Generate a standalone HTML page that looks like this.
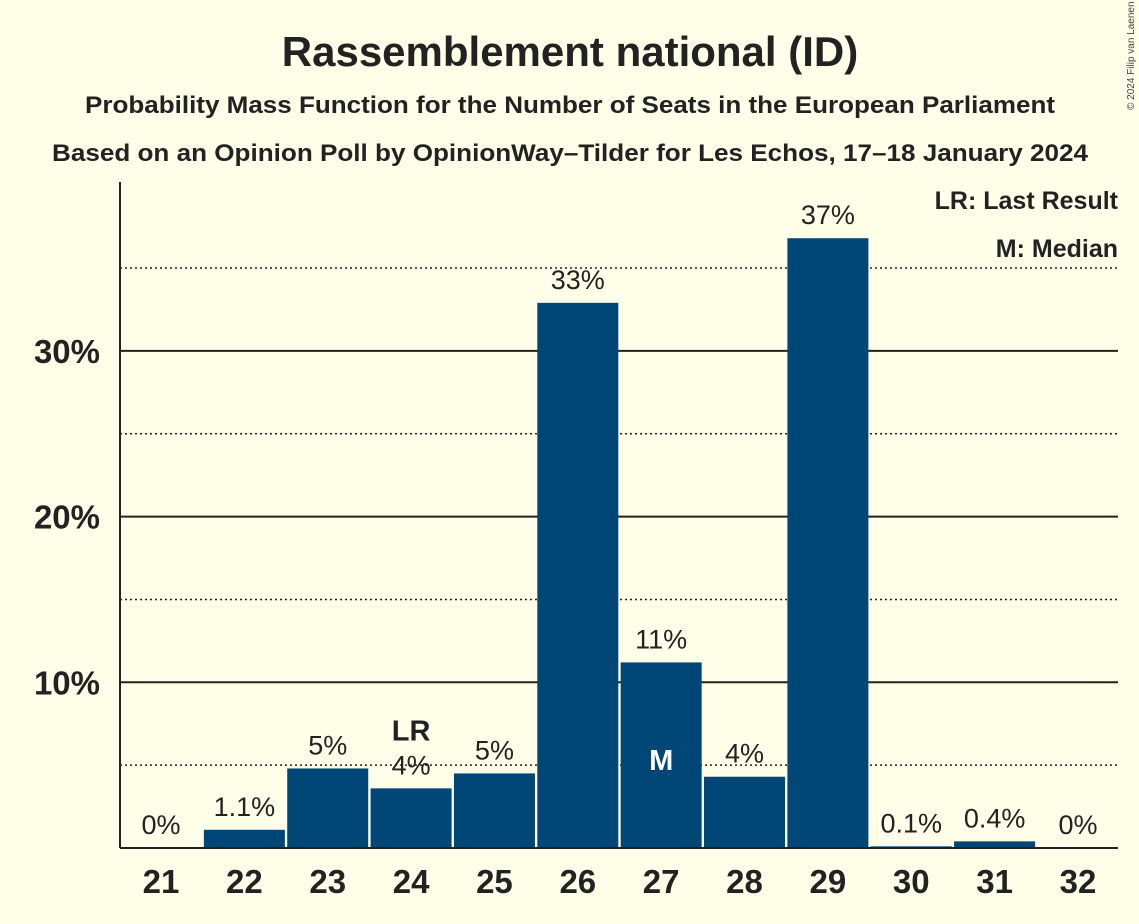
<!DOCTYPE html>
<html><head><meta charset="utf-8"><style>
html,body{margin:0;padding:0;background:#FFFEE8;}
svg{display:block;font-family:"Liberation Sans",sans-serif;}
</style></head><body>
<svg id="chart" width="1139" height="924" viewBox="0 0 1139 924">
<rect width="1139" height="924" fill="#FFFEE8"/>
<text x="570" y="66" text-anchor="middle" font-size="42" font-weight="bold" fill="#222">Rassemblement national (ID)</text>
<text x="85" y="113" font-size="24" font-weight="bold" fill="#222" textLength="970" lengthAdjust="spacingAndGlyphs">Probability Mass Function for the Number of Seats in the European Parliament</text>
<text x="52" y="161" font-size="24" font-weight="bold" fill="#222" textLength="1036" lengthAdjust="spacingAndGlyphs">Based on an Opinion Poll by OpinionWay–Tilder for Les Echos, 17–18 January 2024</text>
<text x="1134" y="110" font-size="10" fill="#444" transform="rotate(-90 1134 110)">© 2024 Filip van Laenen</text>
<g id="grid"></g>
<g id="bars"></g>
<g id="labels"></g>
<g id="axes"></g>
<text x="1118" y="209" text-anchor="end" font-size="25" font-weight="bold" fill="#222">LR: Last Result</text>
<text x="1118" y="257" text-anchor="end" font-size="25" font-weight="bold" fill="#222">M: Median</text>
</svg>
<script>
const categories=[21,22,23,24,25,26,27,28,29,30,31,32];
const values=[0,1.1,4.8,3.6,4.5,32.9,11.2,4.3,36.8,0.1,0.4,0];
const labels=["0%","1.1%","5%","4%","5%","33%","11%","4%","37%","0.1%","0.4%","0%"];
const yTicks=[10,20,30];
const yTickLabels=["10%","20%","30%"];
const yMinor=[5,15,25,35];
const lastResult=24, median=27;
const NS="http://www.w3.org/2000/svg";
const x0=120,x1=1118,y0=848,pxPer=16.57,step=83.36,first=161;
const xC=i=>first+i*step;
const yS=v=>y0-v*pxPer;
function mk(t,a,p){const e=document.createElementNS(NS,t);for(const k in a)e.setAttribute(k,a[k]);p.appendChild(e);return e;}
const grid=document.getElementById('grid'),bars=document.getElementById('bars'),lab=document.getElementById('labels'),ax=document.getElementById('axes');
yMinor.forEach(v=>{const l=mk('line',{x1:x0,x2:x1,y1:yS(v),y2:yS(v),stroke:'#222','stroke-width':1.5,'stroke-dasharray':'2,3'},grid);

});
yTicks.forEach((v,i)=>{const l=mk('line',{x1:x0,x2:x1,y1:yS(v),y2:yS(v),stroke:'#222','stroke-width':2},grid);


const t=mk('text',{x:100,y:yS(v)+12,'text-anchor':'end','font-size':33,'font-weight':'bold',fill:'#222'},ax);t.textContent=yTickLabels[i];

});
categories.forEach((c,i)=>{
 const cx=xC(i),h=values[i]*pxPer;
 if(values[i]>0){const r=mk('rect',{x:cx-40.5,y:y0-h,width:81,height:h,fill:'#004676'},bars);
 
 }
 const t=mk('text',{x:cx,y:yS(values[i])-14,'text-anchor':'middle','font-size':27,fill:'#222'},lab);t.textContent=labels[i];
 
 
 const xt=mk('text',{x:cx,y:893,'text-anchor':'middle','font-size':33,'font-weight':'bold',fill:'#222'},ax);xt.textContent=c;
 
 
 if(c===lastResult){const lr=mk('text',{x:cx,y:yS(values[i])-48,'text-anchor':'middle','font-size':29,'font-weight':'bold',fill:'#222'},lab);lr.textContent='LR';
 
 }
 if(c===median){const m=mk('text',{x:cx,y:770,'text-anchor':'middle','font-size':29,'font-weight':'bold',fill:'#fff'},lab);m.textContent='M';
 
 }
});
const ya=mk('line',{x1:x0,x2:x0,y1:182,y2:y0,stroke:'#222','stroke-width':2},ax);


const xa=mk('line',{x1:x0,x2:x1,y1:y0,y2:y0,stroke:'#222','stroke-width':2},ax);


</script>
</body></html>
